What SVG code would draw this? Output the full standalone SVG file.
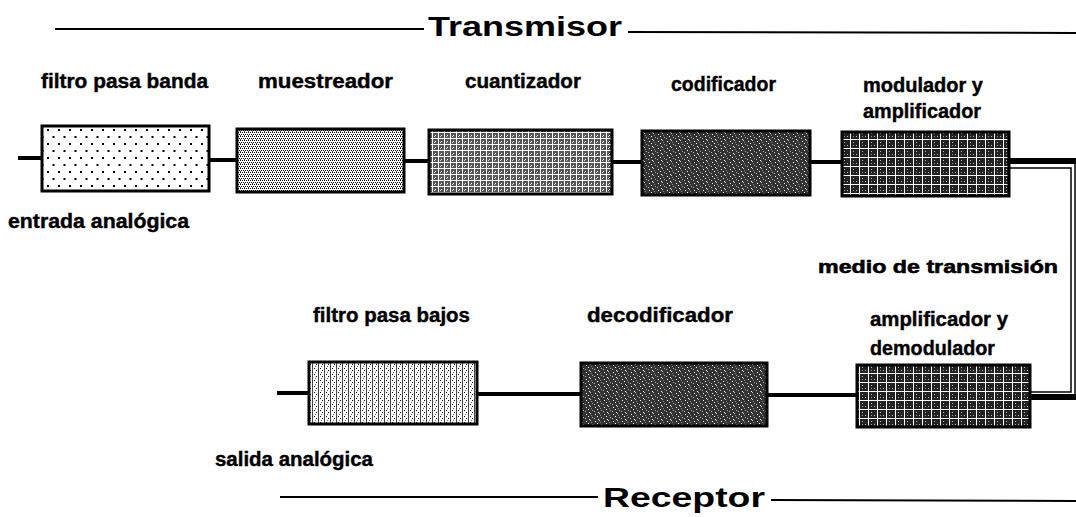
<svg xmlns="http://www.w3.org/2000/svg" width="1076" height="517" viewBox="0 0 1076 517">
<style>
.lbl{font-family:"Liberation Sans Narrow","Liberation Sans",Arial,sans-serif;font-weight:bold;font-size:20px;fill:#000;stroke:#000;stroke-width:0.4}
.ttl{font-family:"Liberation Sans",Arial,sans-serif;font-weight:bold;font-size:28px;fill:#000}
.box{stroke:#000;stroke-width:3}
.wire{stroke:#000;stroke-width:4;fill:none}
.thin{stroke:#000;stroke-width:1.5;fill:none}
.rule{stroke:#000;stroke-width:2}
</style>
<defs>
<pattern id="pDots" width="11" height="14" patternUnits="userSpaceOnUse">
<rect width="11" height="14" fill="#fff"/>
<rect x="3" y="3" width="2" height="2" fill="#000"/>
<rect x="8.5" y="10" width="2" height="2" fill="#000"/>
</pattern>
<pattern id="pLight" width="4" height="4" patternUnits="userSpaceOnUse">
<rect width="4" height="4" fill="#fff"/>
<rect x="0" y="0" width="1" height="1" fill="#000"/>
<rect x="2" y="0" width="1" height="1" fill="#000"/>
<rect x="1" y="2" width="1" height="1" fill="#000"/>
<rect x="3" y="2" width="1" height="1" fill="#000"/>
<rect x="0" y="3" width="1" height="1" fill="#555"/>
</pattern>
<pattern id="pGrid" width="6" height="6" patternUnits="userSpaceOnUse">
<rect width="6" height="6" fill="#555"/>
<rect x="0" y="0" width="6" height="1" fill="#fff"/>
<rect x="0" y="0" width="1" height="6" fill="#fff"/>
<rect x="3" y="3" width="1" height="1" fill="#fff"/>
<rect x="2" y="4" width="1" height="1" fill="#ddd"/>
</pattern>
<pattern id="pNoise" width="9" height="7" patternUnits="userSpaceOnUse">
<rect width="9" height="7" fill="#333"/>
<rect x="1" y="1" width="1" height="1" fill="#fff"/>
<rect x="5" y="0" width="1" height="1" fill="#ccc"/>
<rect x="3" y="3" width="1" height="1" fill="#fff"/>
<rect x="7" y="4" width="1" height="1" fill="#aaa"/>
<rect x="0" y="5" width="1" height="1" fill="#bbb"/>
<rect x="6" y="2" width="1" height="1" fill="#888"/>
<rect x="4" y="6" width="1" height="1" fill="#fff"/>
</pattern>
<pattern id="pCross" width="9" height="9" patternUnits="userSpaceOnUse">
<rect width="9" height="9" fill="#222"/>
<rect x="0" y="4" width="9" height="1" fill="#fff"/>
<rect x="4" y="0" width="1" height="9" fill="#fff"/>
<rect x="1" y="1" width="1" height="1" fill="#bbb"/>
<rect x="7" y="7" width="1" height="1" fill="#bbb"/>
<rect x="7" y="1" width="1" height="1" fill="#999"/>
</pattern>
<pattern id="pLightGrid" width="6" height="6" patternUnits="userSpaceOnUse">
<rect width="6" height="6" fill="#fff"/>
<rect x="0" y="0" width="1" height="6" fill="#444"/>
<rect x="2" y="2" width="1" height="1" fill="#000"/>
<rect x="4" y="4" width="1" height="1" fill="#000"/>
<rect x="3" y="0" width="1" height="1" fill="#666"/>
</pattern>
</defs>

<g id="title-transmisor">
<line class="rule" x1="55" y1="29" x2="424" y2="29"/>
<text class="ttl" x="428" y="36" textLength="194" lengthAdjust="spacingAndGlyphs">Transmisor</text>
<line class="rule" x1="628" y1="32" x2="1076" y2="33"/>
</g>

<g id="connectors">
<line class="wire" x1="18" y1="158" x2="41" y2="158"/>
<line class="wire" x1="210" y1="160" x2="236" y2="160"/>
<line class="wire" x1="404" y1="161" x2="428" y2="161"/>
<line class="wire" x1="612" y1="162" x2="641" y2="162"/>
<line class="wire" x1="810" y1="162" x2="841" y2="162"/>
<line stroke="#000" stroke-width="6" x1="1009" y1="161" x2="1076" y2="161"/>
<polyline class="thin" points="1009,168 1071,168 1071,392 1030,392"/>
<line class="thin" x1="1075" y1="161" x2="1075" y2="398"/>
<line stroke="#000" stroke-width="6" x1="1030" y1="397" x2="1076" y2="397"/>
<line class="wire" x1="277" y1="393" x2="308" y2="393"/>
<line class="wire" x1="477" y1="394" x2="580" y2="394"/>
<line class="wire" x1="767" y1="395" x2="856" y2="395"/>
</g>

<g id="node-filtro-pasa-banda">
<rect class="box" x="42" y="126" width="167" height="65" fill="url(#pDots)"/>
<text class="lbl" x="41" y="88" textLength="167" lengthAdjust="spacingAndGlyphs">filtro pasa banda</text>
</g>
<g id="node-muestreador">
<rect class="box" x="237" y="129" width="167" height="63" fill="url(#pLight)"/>
<text class="lbl" x="258" y="88" textLength="135" lengthAdjust="spacingAndGlyphs">muestreador</text>
</g>
<g id="node-cuantizador">
<rect class="box" x="429" y="130" width="183" height="64" fill="url(#pGrid)"/>
<text class="lbl" x="465" y="88" textLength="116" lengthAdjust="spacingAndGlyphs">cuantizador</text>
</g>
<g id="node-codificador">
<rect class="box" x="642" y="131" width="168" height="64" fill="url(#pNoise)"/>
<text class="lbl" x="671" y="91" textLength="105" lengthAdjust="spacingAndGlyphs">codificador</text>
</g>
<g id="node-modulador">
<rect class="box" x="842" y="132" width="167" height="64" fill="url(#pCross)"/>
<text class="lbl" x="863" y="92" textLength="120" lengthAdjust="spacingAndGlyphs">modulador y</text>
<text class="lbl" x="863" y="118" textLength="118" lengthAdjust="spacingAndGlyphs">amplificador</text>
</g>
<g id="label-entrada">
<text class="lbl" x="8" y="228" textLength="181" lengthAdjust="spacingAndGlyphs">entrada analógica</text>
</g>
<g id="label-medio">
<text class="lbl" x="818" y="273" textLength="240" lengthAdjust="spacingAndGlyphs" style="font-family:'Liberation Sans',Arial,sans-serif;font-size:19px;stroke-width:0.6">medio de transmisión</text>
</g>

<g id="node-filtro-pasa-bajos">
<rect class="box" x="309" y="362" width="168" height="62" fill="url(#pLightGrid)"/>
<text class="lbl" x="313" y="322" textLength="157" lengthAdjust="spacingAndGlyphs">filtro pasa bajos</text>
</g>
<g id="node-decodificador">
<rect class="box" x="581" y="363" width="186" height="63" fill="url(#pNoise)"/>
<text class="lbl" x="587" y="322" textLength="146" lengthAdjust="spacingAndGlyphs">decodificador</text>
</g>
<g id="node-demodulador">
<rect class="box" x="857" y="365" width="173" height="62" fill="url(#pCross)"/>
<text class="lbl" x="870" y="326" textLength="138" lengthAdjust="spacingAndGlyphs">amplificador y</text>
<text class="lbl" x="870" y="355" textLength="125" lengthAdjust="spacingAndGlyphs">demodulador</text>
</g>
<g id="label-salida">
<text class="lbl" x="215" y="466" textLength="158" lengthAdjust="spacingAndGlyphs">salida analógica</text>
</g>

<g id="title-receptor">
<line class="rule" x1="280" y1="497" x2="598" y2="497"/>
<text class="ttl" x="603" y="507" textLength="162" lengthAdjust="spacingAndGlyphs" style="font-size:27px">Receptor</text>
<line class="rule" x1="771" y1="500" x2="1076" y2="501"/>
</g>
</svg>
